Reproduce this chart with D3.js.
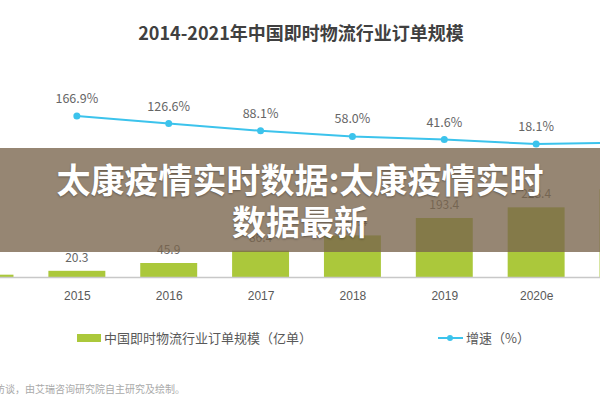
<!DOCTYPE html>
<html>
<head>
<meta charset="utf-8">
<script src="https://cdn.jsdelivr.net/npm/d3@7"></script>
<style>
  html, body { margin: 0; padding: 0; background: #fff; }
  svg { display: block; font-family: "Noto Sans CJK SC", "Noto Sans", sans-serif; }
  .axis text { fill: #595959; font-size: 12px; }
  .axis path { stroke: #c8c8c8; stroke-width: 1.5px; }
</style>
</head>
<body>
<svg width="600" height="400"></svg>
<script>
// values
const YEARS = ['2014', '2015', '2016', '2017', '2018', '2019', '2020e', '2021e'];
const ORDERS = [7.6, 20.3, 45.9, 86.4, 136.4, 193.4, 228.4, 287.8];
const GROWTH = [null, 166.9, 126.6, 88.1, 58.0, 41.6, 18.1, 26.0];

const TITLE = '2014-2021年中国即时物流行业订单规模';
const LEGEND_BAR = '中国即时物流行业订单规模（亿单）';
const LEGEND_LINE = '增速（%）';
const SOURCE = '来源：根据企业公开资料、专家访谈，由艾瑞咨询研究院自主研究及绘制。';
const BANNER = ['太康疫情实时数据:太康疫情实时', '数据最新'];

const BAR_COLOR = '#abc83b';
const LINE_COLOR = '#3cc3ec';

let svg = d3.select('svg');

let x = d3.scalePoint().domain(YEARS).range([-15, 628]);
let barWidth = x.step() * 0.62;
let yBar = d3.scaleLinear().domain([0, 300]).range([277, 185.5]);
let yLine = d3.scaleLinear().domain([0, 200]).range([147.4, 109.8]);

svg.append('text')
  .attr('x', 301)
  .attr('y', 40)
  .attr('text-anchor', 'middle')
  .attr('font-size', '18px')
  .attr('font-weight', 'bold')
  .attr('fill', '#404040')
  .text(TITLE);

let rows = YEARS.map((year, i) => ({ year: year, orders: ORDERS[i], growth: GROWTH[i] }));

// bars
svg.append('g')
  .selectAll('rect')
  .data(rows)
  .enter()
  .append('rect')
  .attr('x', (d) => x(d.year) - barWidth / 2)
  .attr('y', (d) => yBar(d.orders))
  .attr('width', barWidth)
  .attr('height', (d) => yBar(0) - yBar(d.orders))
  .attr('fill', BAR_COLOR);

svg.append('g')
  .selectAll('text')
  .data(rows)
  .enter()
  .append('text')
  .attr('x', (d) => x(d.year))
  .attr('y', (d) => yBar(d.orders) - 9)
  .attr('text-anchor', 'middle')
  .attr('font-size', '12px')
  .attr('fill', '#666')
  .text((d) => d.orders.toFixed(1));

// x axis
svg.append('g')
  .attr('class', 'axis')
  .attr('transform', 'translate(0,' + yBar(0) + ')')
  .call(d3.axisBottom(x).tickSize(0).tickPadding(14.5));

// growth line
let lineRows = rows.filter((d) => d.growth !== null);
let line = d3.line()
  .x((d) => x(d.year))
  .y((d) => yLine(d.growth));

svg.append('path')
  .datum(lineRows)
  .attr('d', line)
  .attr('fill', 'none')
  .attr('stroke', LINE_COLOR)
  .attr('stroke-width', 2);

svg.append('g')
  .selectAll('circle')
  .data(lineRows)
  .enter()
  .append('circle')
  .attr('cx', (d) => x(d.year))
  .attr('cy', (d) => yLine(d.growth))
  .attr('r', 3.5)
  .attr('fill', LINE_COLOR);

svg.append('g')
  .selectAll('text')
  .data(lineRows)
  .enter()
  .append('text')
  .attr('x', (d) => x(d.year))
  .attr('y', (d) => yLine(d.growth) - 13)
  .attr('text-anchor', 'middle')
  .attr('font-size', '12.5px')
  .attr('fill', '#666')
  .text((d) => d.growth.toFixed(1) + '%');

// legend
let legend = svg.append('g').attr('font-size', '13px').attr('fill', '#595959');
legend.append('rect')
  .attr('x', 77).attr('y', 334).attr('width', 24).attr('height', 8)
  .attr('fill', BAR_COLOR);
legend.append('text').attr('x', 104).attr('y', 343).text(LEGEND_BAR);
legend.append('line')
  .attr('x1', 438).attr('x2', 463).attr('y1', 338).attr('y2', 338)
  .attr('stroke', LINE_COLOR).attr('stroke-width', 2);
legend.append('circle')
  .attr('cx', 450).attr('cy', 338).attr('r', 3)
  .attr('fill', LINE_COLOR);
legend.append('text').attr('x', 466).attr('y', 343).text(LEGEND_LINE);

svg.append('text')
  .attr('x', 185)
  .attr('y', 393)
  .attr('text-anchor', 'end')
  .attr('font-size', '10px')
  .attr('fill', '#aaa')
  .text(SOURCE);

// overlay banner
svg.append('rect')
  .attr('x', 0).attr('y', 148).attr('width', 600).attr('height', 104)
  .attr('fill', 'rgb(122,102,78)')
  .attr('fill-opacity', 0.79);

let banner = svg.append('g')
  .attr('font-size', '34px')
  .attr('font-weight', 'bold')
  .attr('fill', '#fff')
  .attr('text-anchor', 'middle')
  .style('text-shadow', '0 1px 2px rgba(0,0,0,0.35)');
BANNER.forEach((t, i) => {
  banner.append('text')
    .attr('x', 300)
    .attr('y', 193 + i * 42)
    .text(t);
});
</script>
</body>
</html>
